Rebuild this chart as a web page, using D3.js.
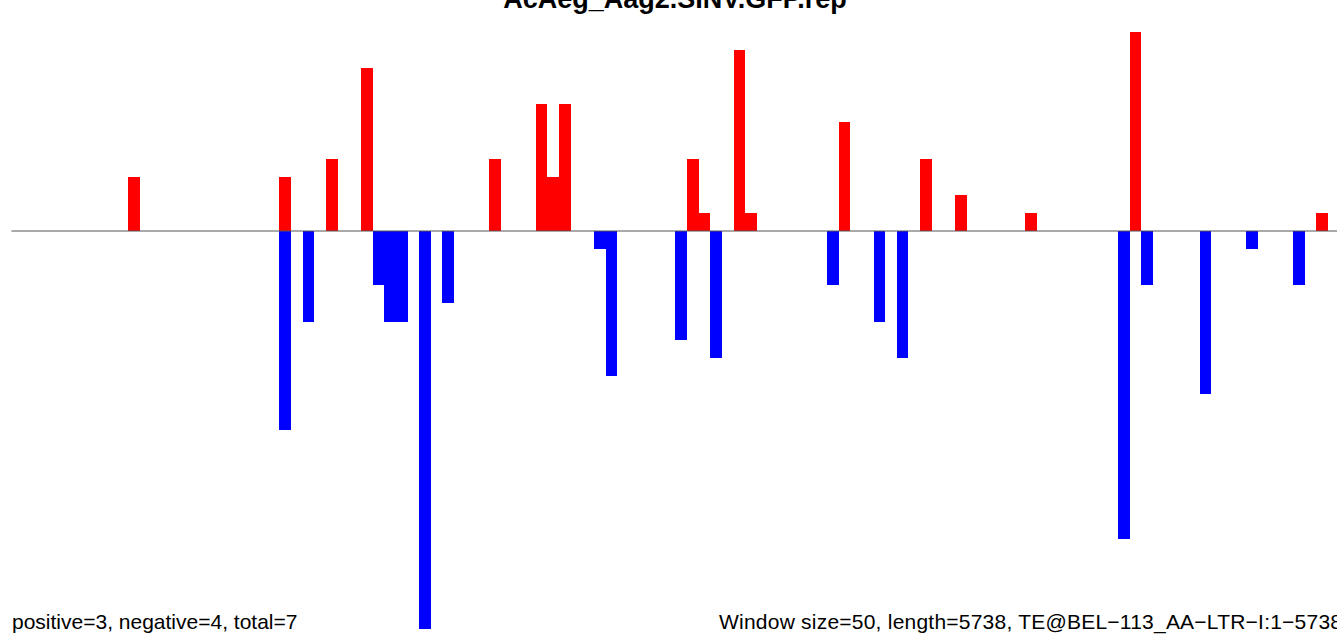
<!DOCTYPE html>
<html>
<head>
<meta charset="utf-8">
<script src="https://cdn.jsdelivr.net/npm/d3@7"></script>
<style>
  html, body { margin: 0; padding: 0; background: #fff; overflow: hidden; }
  svg { display: block; }
  text { font-family: "Liberation Sans", Arial, Helvetica, sans-serif; }
</style>
</head>
<body>
<svg id="chart" width="1337" height="634"></svg>
<script>
// ---- data ----
const title = "AcAeg_Aag2.SINV.GFP.rep";
const windowCount = 115; // 5738 / 50
const posWindows = [10, 23, 27, 30, 41, 45, 46, 47, 58, 59, 62, 63, 71, 78, 81, 87, 96, 112];
const posValues  = [3, 3, 4, 9, 4, 7, 3, 7, 4, 1, 10, 1, 6, 4, 2, 1, 11, 1];
const negWindows = [23, 25, 31, 32, 33, 35, 37, 50, 51, 57, 60, 70, 74, 76, 95, 97, 102, 106, 110];
const negValues  = [11, 5, 3, 5, 5, 22, 4, 1, 8, 6, 7, 3, 5, 7, 17, 3, 9, 1, 3];
const leftNote  = "positive=3, negative=4, total=7";
const rightNote = "Window size=50, length=5738, TE@BEL\u2212113_AA\u2212LTR\u2212I:1\u22125738";

// ---- layout ----
const svg = d3.select("#chart");
const x0 = 11.4, bw = 11.65;
const x = d3.scaleLinear().domain([0, windowCount]).range([x0, x0 + windowCount * bw]);
const unit = 18.1, baseY = 231;
const y = d3.scaleLinear().domain([0, 1]).range([baseY, baseY - unit]);

const pos = posWindows.map((w, i) => ({w, v: posValues[i]}));
const neg = negWindows.map((w, i) => ({w, v: -negValues[i]}));

svg.append("g").selectAll("rect").data(pos).join("rect")
  .attr("x", d => x(d.w))
  .attr("width", d => x(d.w + 1) - x(d.w))
  .attr("y", d => y(d.v))
  .attr("height", d => y(0) - y(d.v))
  .attr("fill", "#ff0000")
  .attr("shape-rendering", "crispEdges");

svg.append("g").selectAll("rect").data(neg).join("rect")
  .attr("x", d => x(d.w))
  .attr("width", d => x(d.w + 1) - x(d.w))
  .attr("y", y(0))
  .attr("height", d => y(d.v) - y(0))
  .attr("fill", "#0000ff")
  .attr("shape-rendering", "crispEdges");

svg.append("line")
  .attr("x1", x(0)).attr("x2", 1337)
  .attr("y1", baseY).attr("y2", baseY)
  .attr("stroke", "#555").attr("stroke-width", 1);

svg.append("text")
  .attr("x", 675).attr("y", 7.5)
  .attr("text-anchor", "middle")
  .attr("font-weight", "bold")
  .attr("font-size", "27px")
  .text(title);

svg.append("text")
  .attr("x", 12).attr("y", 629)
  .attr("font-size", "21px")
  .text(leftNote);

svg.append("text")
  .attr("x", 719).attr("y", 629)
  .attr("font-size", "21px")
  .attr("textLength", 623)
  .attr("lengthAdjust", "spacing")
  .text(rightNote);
</script>
</body>
</html>
